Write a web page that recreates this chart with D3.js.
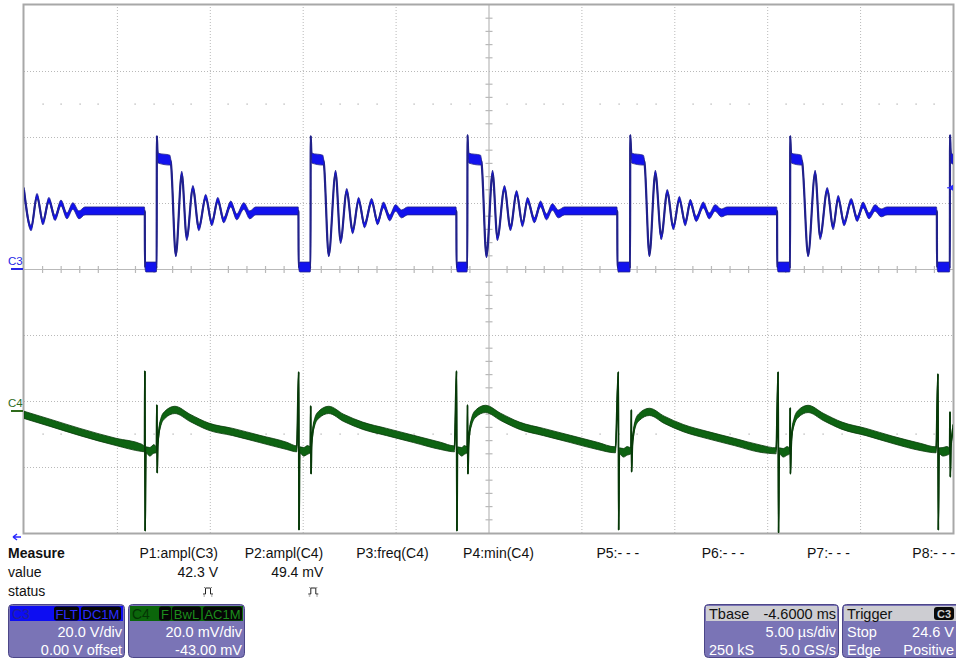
<!DOCTYPE html>
<html><head><meta charset="utf-8">
<script src="https://cdn.jsdelivr.net/npm/d3@7"></script>
<style>
html,body{margin:0;padding:0;background:#fff;}
svg{display:block;font-family:"Liberation Sans",Arial,sans-serif;}
</style></head><body>
<svg id="c" width="956" height="659"></svg>
<script>
// ---------------- DATA ----------------
const timeGrid = [0,5,10,15,20,25,30,35,40,45,50];          // µs, 5 µs/div
const c3Grid = [-80,-60,-40,-20,0,20,40,60,80];              // V, 20 V/div
const c4Domain = [-37,123];                                   // mV, 20 mV/div, offset -43 mV
const c3Domain = [-80,80];
const triggerLevel = 24.6;                                    // V on C3

const measureLabels = ["P1:ampl(C3)","P2:ampl(C4)","P3:freq(C4)","P4:min(C4)","P5:- - -","P6:- - -","P7:- - -","P8:- - -"];
const measureValues = ["42.3 V","49.4 mV","","","","","",""];
const measureStatus = [true,true,false,false,false,false,false,false];
const rowLabels = ["Measure","value","status"];

const c3Box = {name:"C3", tags:["FLT","DC1M"], lines:["20.0 V/div","0.00 V offset"]};
const c4Box = {name:"C4", tags:["F","BwL","AC1M"], lines:["20.0 mV/div","-43.00 mV"]};
const tbaseBox = {title:"Tbase", value:"-4.6000 ms", rows:[["","5.00 µs/div"],["250 kS","5.0 GS/s"]]};
const trigBox = {title:"Trigger", badge:"C3", rows:[["Stop","24.6 V"],["Edge","Positive"]]};

// C3 trace: [time µs, volts, noise half-band V]
const c3Trace = [
[0,23.9,0.8],[0.38,12.4,0.8],[0.70,22.1,0.8],[1.02,14.2,0.8],[1.34,20.9,0.8],[1.67,15.5,0.8],[1.99,20.0,0.9],[2.31,16.1,0.9],[2.63,19.1,1.0],[2.96,16.4,1.2],[3.28,17.6,1.2],[6.48,17.6,1.2],
[6.50,17.3,0],[6.51,0.6,0],[6.56,0.6,1.5],[7.12,0.6,1.5],[7.14,0.3,0],[7.15,40.3,0],[7.18,36.1,0.3],[7.22,33.6,1.5],[7.85,33.0,1.5],[7.90,32.4,0.8],[8.17,4.2,0.5],[8.49,28.8,0.8],[8.76,9.4,0.8],[9.09,24.5,0.8],[9.41,12.4,0.8],[9.78,21.8,0.8],[10.11,13.9,0.8],[10.43,20.9,0.8],[10.75,14.8,0.8],[11.13,19.7,0.9],[11.45,15.8,0.9],[11.83,19.1,1.0],[12.15,16.4,1.2],[12.47,17.6,1.2],[14.76,17.6,1.2],
[14.77,17.3,0],[14.78,0.6,0],[14.84,0.6,1.5],[15.40,0.6,1.5],[15.42,0.3,0],[15.43,40.3,0],[15.46,36.1,0.3],[15.49,33.6,1.5],[16.08,33.0,1.5],[16.13,32.4,0.8],[16.40,4.2,0.5],[16.77,29.1,0.8],[17.04,8.5,0.8],[17.37,23.6,0.8],[17.69,11.5,0.8],[18.01,20.9,0.8],[18.33,13.3,0.8],[18.71,20.6,0.8],[19.03,14.2,0.8],[19.35,19.4,0.9],[19.68,15.5,0.9],[20.00,18.5,1.0],[20.32,16.7,1.2],[20.65,17.6,1.2],[23.25,17.6,1.2],
[23.27,17.3,0],[23.28,0.6,0],[23.33,0.6,1.5],[23.84,0.6,1.5],[23.86,0.3,0],[23.87,40.6,0],[23.90,36.1,0.3],[23.94,33.6,1.5],[24.57,33.0,1.5],[24.62,32.4,0.8],[24.89,3.9,0.5],[25.22,29.1,0.8],[25.48,9.4,0.8],[25.86,24.5,0.8],[26.18,12.4,0.8],[26.51,23.0,0.8],[26.83,13.6,0.8],[27.10,20.9,0.8],[27.47,14.8,0.8],[27.80,19.7,0.9],[28.12,15.8,0.9],[28.44,18.8,1.0],[28.76,16.7,1.2],[29.09,17.6,1.2],[31.91,17.6,1.2],
[31.93,17.3,0],[31.94,0.6,0],[31.99,0.6,1.5],[32.61,0.6,1.5],[32.62,0.3,0],[32.63,40.6,0],[32.67,36.1,0.3],[32.70,33.6,1.5],[33.33,33.0,1.5],[33.39,32.4,0.8],[33.66,4.2,0.5],[33.98,29.1,0.8],[34.30,9.7,0.8],[34.62,23.3,0.8],[34.95,12.7,0.8],[35.27,21.2,0.8],[35.59,13.9,0.8],[35.86,20.3,0.8],[36.18,15.2,0.8],[36.56,19.4,0.9],[36.88,16.1,0.9],[37.20,18.5,1.0],[37.53,17.0,1.2],[37.85,17.6,1.2],[40.51,17.6,1.2],
[40.53,17.3,0],[40.54,0.6,0],[40.59,0.6,1.5],[41.21,0.6,1.5],[41.23,0.3,0],[41.24,40.3,0],[41.27,36.1,0.3],[41.30,33.6,1.5],[41.83,33.0,1.5],[41.88,32.4,0.8],[42.20,4.2,0.5],[42.58,29.1,0.8],[42.85,9.7,0.8],[43.23,23.9,0.8],[43.55,12.7,0.8],[43.82,21.5,0.8],[44.14,13.9,0.8],[44.52,20.6,0.8],[44.84,15.2,0.8],[45.16,19.4,0.9],[45.48,16.1,0.9],[45.81,18.5,1.0],[46.13,17.0,1.2],[46.45,17.6,1.2],[49.11,17.6,1.2],
[49.13,17.3,0],[49.14,0.6,0],[49.19,0.6,1.5],[49.81,0.6,1.5],[49.83,0.3,0],[49.84,40.6,0],[49.87,36.1,0.3],[49.90,33.6,1.5],[50,33.3,1.5]
];

// C4 trace: [time µs, millivolts, noise half-band mV]
const c4Trace = [
[0,-1.2,1.1],[1.40,-3.6,1.1],[3.01,-6.4,1.1],[4.95,-9.4,1.1],[6.34,-11.2,1.1],
[6.49,-11.5,0.9],[6.505,12.1,0],[6.52,-36.4,0],[6.56,-11.8,0.9],[6.77,-12.4,1.3],[6.99,-11.5,1.3],[7.13,-11.8,0.9],[7.15,1.8,0],[7.17,-18.8,0],[7.20,-10.3,0.6],[7.26,-6.4,1.0],[7.37,-3.3,1.1],[7.58,-1.2,1.1],[8.12,0.3,1.1],[8.93,-2.1,1.1],[9.95,-4.8,1.1],[11.24,-6.4,1.1],[12.69,-8.5,1.1],[14.14,-10.6,1.1],[14.68,-11.5,0.9],
[14.785,11.8,0],[14.80,-36.1,0],[14.84,-11.8,0.9],[15.05,-12.4,1.3],[15.27,-11.8,1.3],[15.41,-11.8,0.9],[15.43,1.5,0],[15.45,-19.1,0],[15.48,-10.3,0.6],[15.54,-6.4,1.0],[15.65,-3.3,1.1],[15.86,-1.2,1.1],[16.40,0.3,1.1],[17.20,-2.1,1.1],[18.23,-4.5,1.1],[19.52,-6.4,1.1],[20.97,-8.5,1.1],[22.42,-10.6,1.1],[23.17,-11.5,0.9],
[23.28,12.1,0],[23.30,-36.4,0],[23.33,-11.8,0.9],[23.55,-12.4,1.3],[23.71,-11.8,1.3],[23.855,-11.8,0.9],[23.87,1.8,0],[23.89,-19.1,0],[23.93,-10.3,0.6],[23.98,-6.4,1.0],[24.09,-3.3,1.1],[24.30,-0.9,1.1],[24.84,0.6,1.1],[25.65,-1.8,1.1],[26.67,-4.5,1.1],[27.96,-6.4,1.1],[29.41,-8.5,1.1],[30.86,-10.6,1.1],[31.83,-11.8,0.9],
[31.99,11.8,0],[32.005,-36.1,0],[32.04,-12.1,0.9],[32.26,-12.7,1.3],[32.47,-12.1,1.3],[32.67,-12.1,0.9],[32.69,0.3,0],[32.70,-18.5,0],[32.74,-10.9,0.6],[32.80,-7.0,1.0],[32.90,-3.9,1.1],[33.12,-1.8,1.1],[33.66,-0.3,1.1],[34.46,-2.7,1.1],[35.48,-5.2,1.1],[36.77,-7.3,1.1],[38.23,-9.4,1.1],[39.68,-11.5,1.1],[40.48,-12.1,0.9],
[40.59,11.8,0],[40.61,-37,0],[40.65,-12.1,0.9],[40.86,-12.7,1.3],[41.08,-12.1,1.3],[41.22,-12.1,0.9],[41.24,0.9,0],[41.25,-19.1,0],[41.29,-10.6,0.6],[41.34,-6.4,1.0],[41.45,-3.3,1.1],[41.67,-0.9,1.1],[42.20,0.6,1.1],[43.01,-1.8,1.1],[44.03,-4.5,1.1],[45.32,-6.4,1.1],[46.77,-8.8,1.1],[48.23,-10.9,1.1],[49.09,-11.8,0.9],
[49.19,11.2,0],[49.21,-36.1,0],[49.25,-12.1,0.9],[49.46,-12.4,1.3],[49.68,-12.1,1.3],[49.82,-12.1,0.9],[49.84,-0.3,0],[49.855,-20.0,0],[49.89,-10.6,0.6],[49.95,-7.3,1.0],[50,-5.2,1.1]
];

// ---------------- LAYOUT ----------------
const svg = d3.select("#c");
const L = 24, R = 953, T = 5, B = 533;
const x = d3.scaleLinear().domain([timeGrid[0], timeGrid[timeGrid.length-1]]).range([L, R]);
const y3 = d3.scaleLinear().domain(c3Domain).range([B, T]);
const y4 = d3.scaleLinear().domain(c4Domain).range([B, T]);
const gridCol = "#b9b9b9";

const grid = svg.append("g");
const xMid = timeGrid[Math.floor(timeGrid.length/2)];
const yMid = c3Grid[Math.floor(c3Grid.length/2)];
const vAxis = d3.axisBottom(x).tickValues(timeGrid.filter(t => t!==xMid && t!==timeGrid[0] && t!==timeGrid[timeGrid.length-1])).tickSize(-(B-T)).tickFormat("");
const gv = grid.append("g").attr("transform",`translate(0,${B})`).call(vAxis);
const hAxis = d3.axisLeft(y3).tickValues(c3Grid.filter(v => v!==yMid && v!==c3Grid[0] && v!==c3Grid[c3Grid.length-1])).tickSize(-(R-L)).tickFormat("");
const gh = grid.append("g").attr("transform",`translate(${L},0)`).call(hAxis);
[gv,gh].forEach(g=>{
  g.select(".domain").remove();
  g.selectAll(".tick line").attr("stroke",gridCol).attr("stroke-width",1).attr("stroke-dasharray","1,2");
});

// minor dot rows at ±50 V and center-cross ticks
const minorT = d3.range(timeGrid[0], timeGrid[timeGrid.length-1], 1).filter(t => t % 5 !== 0);
[50,-50].forEach(v=>{
  grid.selectAll(null).data(minorT).enter().append("rect")
    .attr("x",d=>Math.round(x(d))-0.5).attr("y",Math.round(y3(v))-0.5).attr("width",1.2).attr("height",1.2).attr("fill","#a9a9a9");
});
grid.append("line").attr("x1",L).attr("x2",R).attr("y1",y3(yMid)+0.5).attr("y2",y3(yMid)+0.5).attr("stroke",gridCol).attr("stroke-width",1.2);
grid.append("line").attr("x1",x(xMid)+0.5).attr("x2",x(xMid)+0.5).attr("y1",T).attr("y2",B).attr("stroke",gridCol).attr("stroke-width",1.2);
grid.selectAll(null).data(minorT).enter().append("line")
  .attr("x1",d=>x(d)).attr("x2",d=>x(d)).attr("y1",y3(yMid)-3).attr("y2",y3(yMid)+4).attr("stroke",gridCol).attr("stroke-width",1.2);
const minorV = d3.range(c3Domain[0], c3Domain[1], 4).filter(v => v % 20 !== 0);
grid.selectAll(null).data(minorV).enter().append("line")
  .attr("x1",x(xMid)-3).attr("x2",x(xMid)+4).attr("y1",d=>y3(d)).attr("y2",d=>y3(d)).attr("stroke",gridCol).attr("stroke-width",1.2);
grid.append("rect").attr("x",L-0.5).attr("y",T-0.5).attr("width",R-L+1).attr("height",B-T+1)
  .attr("fill","none").attr("stroke","#a8a8a8").attr("stroke-width",2);

// ---------------- TRACES ----------------
svg.append("clipPath").attr("id","plotclip").append("rect").attr("x",L).attr("y",T).attr("width",R-L).attr("height",B-T);
const traces = svg.append("g").attr("clip-path","url(#plotclip)");

function drawTrace(data, ys, fill, edge, lw){
  const line = d3.line().curve(d3.curveMonotoneX).x(d=>x(d[0])).y(d=>ys(d[1]));
  const area = d3.area().curve(d3.curveMonotoneX).x(d=>x(d[0])).y0(d=>ys(d[1]-d[2])).y1(d=>ys(d[1]+d[2]));
  traces.append("path").datum(data).attr("d",line).attr("fill","none").attr("stroke",edge).attr("stroke-width",lw).attr("stroke-linejoin","round");
  traces.append("path").datum(data).attr("d",area).attr("fill",fill).attr("stroke",edge).attr("stroke-width",0.8);
}
drawTrace(c4Trace, y4, "#0e6312", "#073a09", 1.8);
drawTrace(c3Trace, y3, "#1212ee", "#22228a", 2.2);

// trigger level marker (right edge)
const ty = y3(triggerLevel);
svg.append("path").attr("d",`M${R-5},${ty} l5,-3 v6 z`).attr("fill","#2a2aff");
svg.append("line").attr("x1",R-6).attr("x2",R).attr("y1",ty).attr("y2",ty).attr("stroke","#2a2aff").attr("stroke-width",1);

// channel markers
function chanMark(label, yy, col){
  svg.append("text").attr("x",8).attr("y",yy-4).attr("font-size",11.5).attr("fill",col).text(label);
  svg.append("line").attr("x1",11).attr("x2",23).attr("y1",yy).attr("y2",yy).attr("stroke",col).attr("stroke-width",2);
}
chanMark(c3Box.name, Math.round(y3(0)), "#2626e6");
chanMark(c4Box.name, Math.round(y4(0)), "#2f6b1c");

svg.append("path").attr("d","M13,537 l4,-3 M13,537 l4,3 M13,537 h8").attr("stroke","#2a2aff").attr("stroke-width",1.5).attr("fill","none");

// ---------------- MEASUREMENTS ----------------
const mt = svg.append("g").attr("font-size",14).attr("fill","#111");
const rowY = [558,577,596];
rowLabels.forEach((t,i)=> mt.append("text").attr("x",8).attr("y",rowY[i]).attr("font-weight",i===0?"bold":"normal").text(t));
const colRight = i => 218 + i*105.3;
measureLabels.forEach((t,i)=> mt.append("text").attr("x",colRight(i)).attr("y",rowY[0]).attr("text-anchor","end").text(t));
measureValues.forEach((t,i)=> { if(t) mt.append("text").attr("x",colRight(i)).attr("y",rowY[1]).attr("text-anchor","end").text(t); });
measureStatus.forEach((s,i)=>{
  if(!s) return;
  const cx = colRight(i)-10, cy = 591;
  const g = svg.append("g").attr("transform",`translate(${cx},${cy})`);
  g.append("path").attr("d","M-5,3 h2.5 v-6 h5 v6 h2.5").attr("fill","none").attr("stroke","#222").attr("stroke-width",1);
  g.append("path").attr("d","M-4,-4 l1.5,1.5 M4,-4 l-1.5,1.5 M-4.5,5 h1.5 M3,5 h1.5").attr("stroke","#666").attr("stroke-width",0.8);
});

// ---------------- INFO BOXES ----------------
const bodyFill = "#7a74b6", bodyEdge = "#4c4688";
function chanBox(b, bx, bw, headFill, nameCol, tagCol, tagX){
  const g = svg.append("g");
  g.append("rect").attr("x",bx+0.5).attr("y",604.5).attr("width",bw).attr("height",53).attr("rx",4).attr("fill",bodyFill).attr("stroke",bodyEdge);
  g.append("rect").attr("x",bx+2).attr("y",606).attr("width",bw-3).attr("height",15).attr("fill",headFill);
  g.append("text").attr("x",bx+4).attr("y",619).attr("font-size",14).attr("fill",nameCol).text(b.name);
  b.tags.forEach((t,i)=>{
    g.append("rect").attr("x",tagX[i][0]).attr("y",606.5).attr("width",tagX[i][1]-tagX[i][0]).attr("height",14).attr("rx",2.5).attr("fill","#050505");
    g.append("text").attr("x",(tagX[i][0]+tagX[i][1])/2).attr("y",618.5).attr("text-anchor","middle").attr("font-size",13).attr("fill",tagCol).text(t);
  });
  b.lines.forEach((t,i)=> g.append("text").attr("x",bx+bw-2).attr("y",637+i*18).attr("text-anchor","end").attr("font-size",14.5).attr("fill","#fff").text(t));
}
chanBox(c3Box, 8, 116, "#0d0df2", "#20209a", "#2c2cff", [[54,79],[81,121]]);
chanBox(c4Box, 128, 116, "#0b660b", "#043504", "#1c8c1c", [[159,171],[172,201],[203,242]]);

function infoBox(b, bx, bw){
  const g = svg.append("g");
  g.append("rect").attr("x",bx+0.5).attr("y",604.5).attr("width",bw).attr("height",53).attr("rx",4).attr("fill",bodyFill).attr("stroke",bodyEdge);
  g.append("rect").attr("x",bx+2).attr("y",606).attr("width",bw-3).attr("height",15).attr("fill","#cdcdd2");
  g.append("text").attr("x",bx+5).attr("y",619).attr("font-size",14.5).attr("fill","#111").text(b.title);
  if(b.value) g.append("text").attr("x",bx+bw-2).attr("y",619).attr("text-anchor","end").attr("font-size",14.5).attr("fill","#111").text(b.value);
  if(b.badge){
    g.append("rect").attr("x",934).attr("y",607).attr("width",20).attr("height",13).attr("rx",3).attr("fill","#0a0a0a");
    g.append("text").attr("x",944).attr("y",618).attr("text-anchor","middle").attr("font-size",11).attr("font-weight","bold").attr("fill","#cfcfcf").text(b.badge);
  }
  b.rows.forEach((r,i)=>{
    if(r[0]) g.append("text").attr("x",bx+5).attr("y",637+i*18).attr("font-size",14.5).attr("fill","#fff").text(r[0]);
    if(r[1]) g.append("text").attr("x",Math.min(bx+bw-2,954)).attr("y",637+i*18).attr("text-anchor","end").attr("font-size",14.5).attr("fill","#fff").text(r[1]);
  });
}
infoBox(tbaseBox, 704, 134);
infoBox(trigBox, 842, 120);
</script>
</body></html>
